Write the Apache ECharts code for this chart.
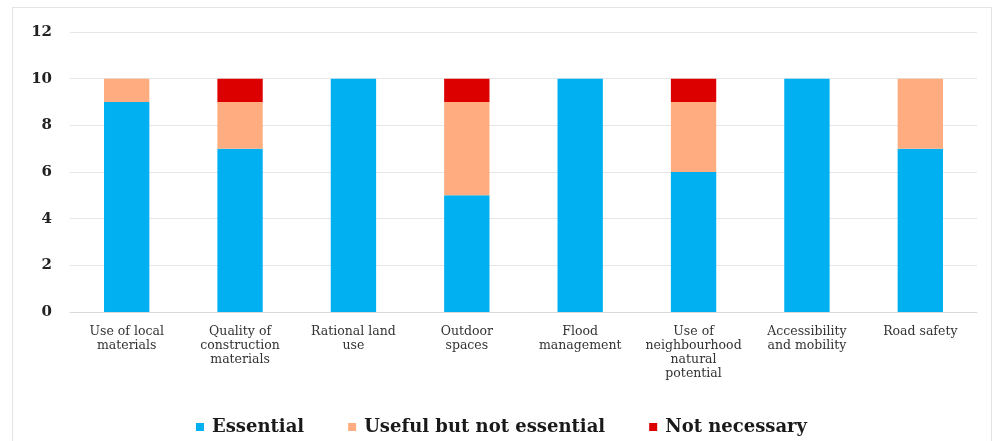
<!DOCTYPE html>
<html><head><meta charset="utf-8">
<script src="https://cdn.jsdelivr.net/npm/echarts@6/dist/echarts.min.js"></script>
<style>html,body{margin:0;padding:0;background:#fff}
#frame{position:absolute;left:12px;top:7px;width:980px;height:440px;border:1px solid #e4e4e4;box-sizing:border-box}
#c{position:absolute;left:0;top:0;width:1003px;height:441px}</style>
</head><body><div id="frame"></div><div id="c"></div>
<script>
const categories = ["Use of local\nmaterials","Quality of\nconstruction\nmaterials","Rational land\nuse","Outdoor\nspaces","Flood\nmanagement","Use of\nneighbourhood\nnatural\npotential","Accessibility\nand mobility","Road safety"];
const essential = [9,7,10,5,10,6,10,7];
const useful = [1,2,0,4,0,3,0,3];
const notNecessary = [0,1,0,1,0,1,0,0];
const yTicks = [0,2,4,6,8,10,12];
const serif = "'DejaVu Serif', 'Liberation Serif', serif";
const chart = echarts.init(document.getElementById('c'));
chart.setOption({
  animation:false,
  grid:{left:70,right:26,top:32,bottom:129},
  legend:{bottom:0,left:'center',itemWidth:8,itemHeight:8,itemGap:44,icon:'rect',
    textStyle:{fontFamily:serif,fontWeight:'bold',fontSize:18,color:'#1a1a1a',padding:[0,0,0,3]},
    data:['Essential','Useful but not essential','Not necessary']},
  xAxis:{type:'category',data:categories,
    axisLine:{lineStyle:{color:'#d9d9d9'}},axisTick:{show:false},
    axisLabel:{interval:0,fontFamily:serif,fontSize:12.5,color:'#333',lineHeight:14,margin:13}},
  yAxis:{type:'value',min:0,max:12,interval:2,
    splitLine:{lineStyle:{color:'#e6e6e6'}},
    axisLabel:{fontFamily:serif,fontWeight:'bold',fontSize:15,color:'#222',margin:18,
      formatter:v=>yTicks.includes(v)?String(v):''}},
  series:[
    {name:'Essential',type:'bar',stack:'a',data:essential,barWidth:'40%',itemStyle:{color:'#00B0F0'}},
    {name:'Useful but not essential',type:'bar',stack:'a',data:useful,itemStyle:{color:'#FFAD80'}},
    {name:'Not necessary',type:'bar',stack:'a',data:notNecessary,itemStyle:{color:'#DD0000'}}
  ]
});
</script></body></html>
